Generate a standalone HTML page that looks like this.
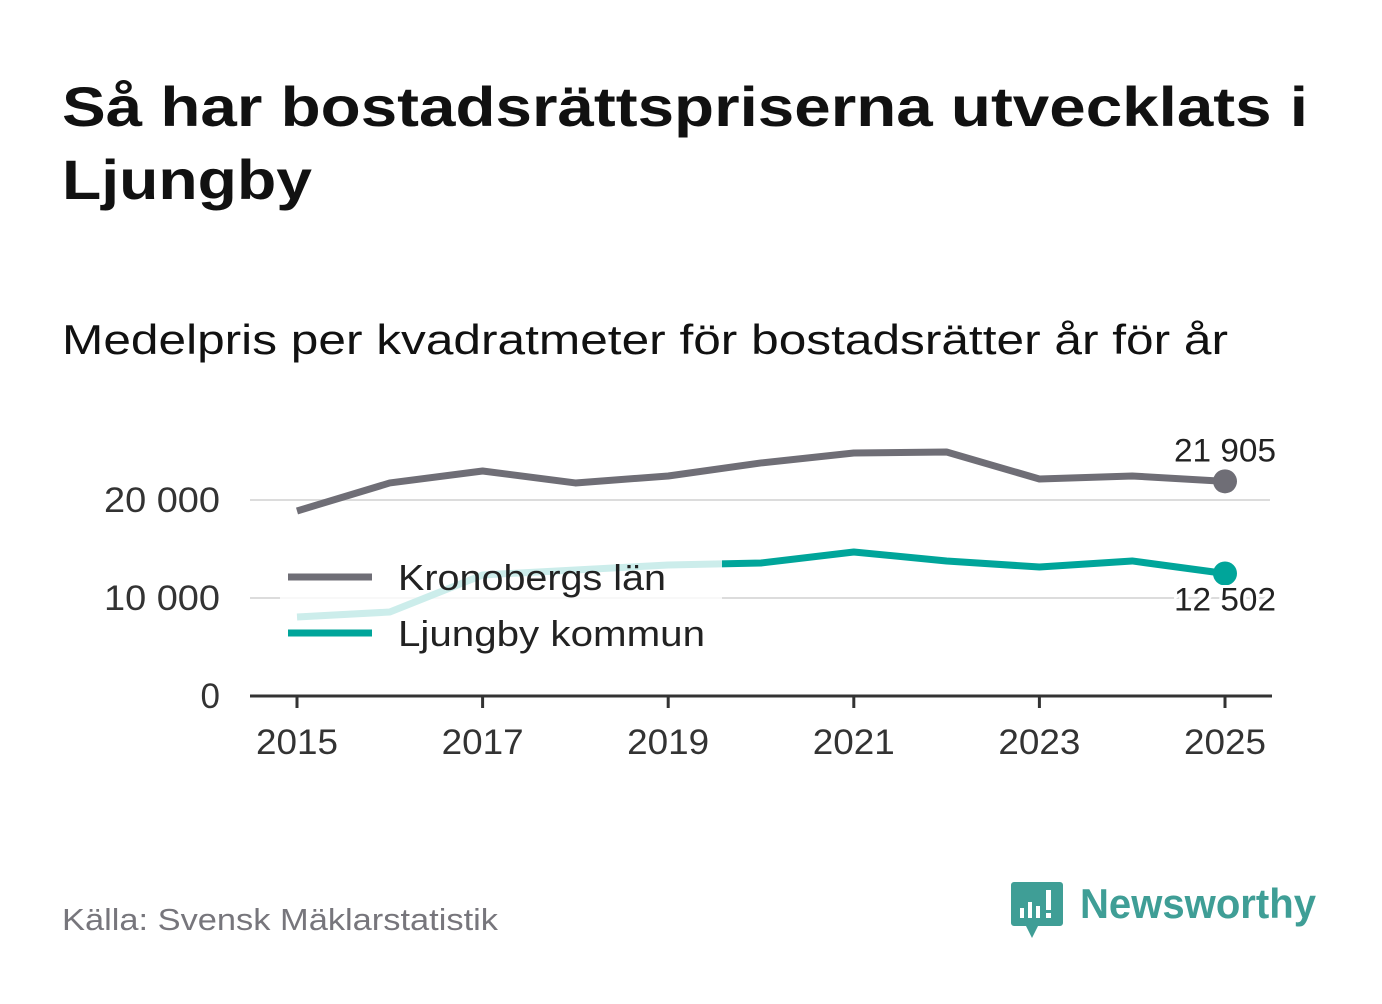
<!DOCTYPE html>
<html><head><meta charset="utf-8"><style>
body{margin:0;background:#fff;width:1382px;height:999px;overflow:hidden;font-family:"Liberation Sans","DejaVu Sans",sans-serif;}
</style></head><body>
<svg width="1382" height="999" xmlns="http://www.w3.org/2000/svg" id="chart">
<text x="62" y="126" font-size="56" font-weight="bold" fill="#111" textLength="1246" lengthAdjust="spacingAndGlyphs">Så har bostadsrättspriserna utvecklats i</text>
<text x="62" y="199" font-size="56" font-weight="bold" fill="#111" textLength="250" lengthAdjust="spacingAndGlyphs">Ljungby</text>
<text x="62" y="354" font-size="42" fill="#111" textLength="1166" lengthAdjust="spacingAndGlyphs">Medelpris per kvadratmeter för bostadsrätter år för år</text>
<g id="grid"></g>
<g id="lines"></g>
<rect x="280" y="550" width="442" height="110" fill="#fff" fill-opacity="0.8"/>
<g>
<line x1="288" y1="577" x2="372" y2="577" stroke="#6f6e76" stroke-width="7"/>
<text x="398" y="590" font-size="36" fill="#222" textLength="268" lengthAdjust="spacingAndGlyphs">Kronobergs län</text>
<line x1="288" y1="633" x2="372" y2="633" stroke="#00a59a" stroke-width="7"/>
<text x="398" y="646" font-size="36" fill="#222" textLength="307" lengthAdjust="spacingAndGlyphs">Ljungby kommun</text>
</g>
<g id="labels"></g>
<text x="62" y="930" font-size="31" fill="#77767c" textLength="436" lengthAdjust="spacingAndGlyphs">Källa: Svensk Mäklarstatistik</text>
<g>
<path d="M1014 882 h46 a3 3 0 0 1 3 3 v38 a3 3 0 0 1 -3 3 h-22 l-6 12 l-6 -12 h-12 a3 3 0 0 1 -3 -3 v-38 a3 3 0 0 1 3 -3z" fill="#3f9e96"/>
<rect x="1020" y="908" width="4" height="10" fill="#fff"/><rect x="1028" y="902" width="4" height="16" fill="#fff"/><rect x="1036" y="906" width="4" height="12" fill="#fff"/><rect x="1046" y="890" width="5" height="20" fill="#fff"/><rect x="1046" y="913" width="5" height="5" fill="#fff"/>
<text x="1080" y="918" font-size="42" font-weight="bold" fill="#3f9e96" textLength="236" lengthAdjust="spacingAndGlyphs">Newsworthy</text>
</g>
</svg>
<script>
const years=[2015,2016,2017,2018,2019,2020,2021,2022,2023,2024,2025];
const kronoberg=[18880,21740,22960,21740,22450,23780,24800,24900,22140,22450,21905];
const ljungby=[8060,8570,12350,12860,13370,13570,14690,13780,13160,13780,12502];
const yTicks=[0,10000,20000];
const yTickLabels=["0","10 000","20 000"];
const xTicks=[2015,2017,2019,2021,2023,2025];
const NS="http://www.w3.org/2000/svg";
const xs=y=>297+(y-2015)*92.8;
const ys=v=>696-v*0.0098;
function mk(tag,attrs,parent){const e=document.createElementNS(NS,tag);for(const k in attrs)e.setAttribute(k,attrs[k]);parent.appendChild(e);return e;}
const grid=document.getElementById('grid'),lines=document.getElementById('lines'),labels=document.getElementById('labels');
yTicks.forEach((t,i)=>{
 if(t>0){const g=mk('line',{x1:250,x2:1270,y1:ys(t),y2:ys(t),stroke:'#dcdcdc','stroke-width':2},grid);
 
 }
 const tx=mk('text',{x:220,y:ys(t)+12,'font-size':35,fill:'#333','text-anchor':'end'},labels);tx.textContent=yTickLabels[i];
 if(t>0){tx.setAttribute('textLength',116);tx.setAttribute('lengthAdjust','spacingAndGlyphs');}
 
 
});
const ax=mk('line',{x1:250,x2:1272,y1:696,y2:696,stroke:'#333','stroke-width':3},labels);


xTicks.forEach(y=>{
 const tk=mk('line',{x1:xs(y),x2:xs(y),y1:696,y2:708,stroke:'#333','stroke-width':3},labels);
 
 
 const tx=mk('text',{x:xs(y),y:754,'font-size':35,fill:'#333','text-anchor':'middle',textLength:82,lengthAdjust:'spacingAndGlyphs'},labels);tx.textContent=y;
 
 
});
function series(vals,color,name){
 const p=mk('polyline',{points:vals.map((v,i)=>xs(years[i])+','+ys(v)).join(' '),fill:'none',stroke:color,'stroke-width':7,'stroke-linejoin':'round'},lines);
 
 
 const n=vals.length-1;
 const c=mk('circle',{cx:xs(years[n]),cy:ys(vals[n]),r:12,fill:color},lines);
 
 
}
series(kronoberg,'#6f6e76','kronoberg');
series(ljungby,'#00a59a','ljungby');
const fmt=v=>String(v).replace(/\B(?=(\d{3})+(?!\d))/g,' ');
const n=years.length-1;
const l1=mk('text',{x:1225,y:ys(kronoberg[n])-20,'font-size':32,fill:'#222','text-anchor':'middle',textLength:102,lengthAdjust:'spacingAndGlyphs'},labels);l1.textContent=fmt(kronoberg[n]);


const l2=mk('text',{x:1225,y:ys(ljungby[n])+37,'font-size':32,fill:'#222','text-anchor':'middle',stroke:'#fff','stroke-width':6,'paint-order':'stroke',textLength:102,lengthAdjust:'spacingAndGlyphs'},labels);l2.textContent=fmt(ljungby[n]);


</script>
</body></html>
